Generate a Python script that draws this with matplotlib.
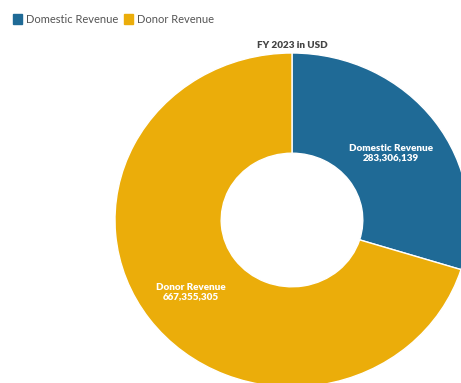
import matplotlib
matplotlib.use('Agg')
import matplotlib.pyplot as plt
from matplotlib.patches import Patch

# FY 2023 revenue split, USD
labels = ['Domestic Revenue', 'Donor Revenue']
values = [283306139, 667355305]
colors = ['#1f6a96', '#ebad0a']

W, H = 461, 383
fig = plt.figure(figsize=(W / 100, H / 100), dpi=100)
plt.rcParams['font.family'] = ['Lato', 'DejaVu Sans']

# ring centre and radii in pixels
cx, cy, rx, ry = 292, 220, 177, 167
ax = fig.add_axes([(cx - rx) / W, (H - cy - ry) / H, 2 * rx / W, 2 * ry / H])
ax.pie(values, colors=colors, startangle=90, counterclock=False,
       radius=1.0, wedgeprops=dict(width=0.6, edgecolor='white', linewidth=1.0))
ax.set_xlim(-1, 1)
ax.set_ylim(-1, 1)
ax.set_aspect('auto')
ax.axis('off')

# value labels inside the wedges
label_pos = [(0.56, 0.40), (-0.57, -0.43)]
for (x, y), lab, v in zip(label_pos, labels, values):
    ax.text(x, y, f'{lab}\n{v:,}', ha='center', va='center', color='white',
            fontsize=7.1, fontweight='heavy', linespacing=1.0)

fig.text(cx / W, 1 - 45.5 / H, 'FY 2023 in USD', ha='center', va='center',
         fontsize=7.1, fontweight='heavy', color='#444444')

handles = [Patch(facecolor=c, edgecolor=c, label=l) for c, l in zip(colors, labels)]
fig.legend(handles=handles, loc='upper left', bbox_to_anchor=(0.012, 0.985),
           ncol=2, frameon=False, fontsize=8, handlelength=0.8, handleheight=1.1,
           handletextpad=0.3, columnspacing=0.6, labelcolor='#555555',
           borderaxespad=0.3)

fig.savefig('out.png', dpi=100)
